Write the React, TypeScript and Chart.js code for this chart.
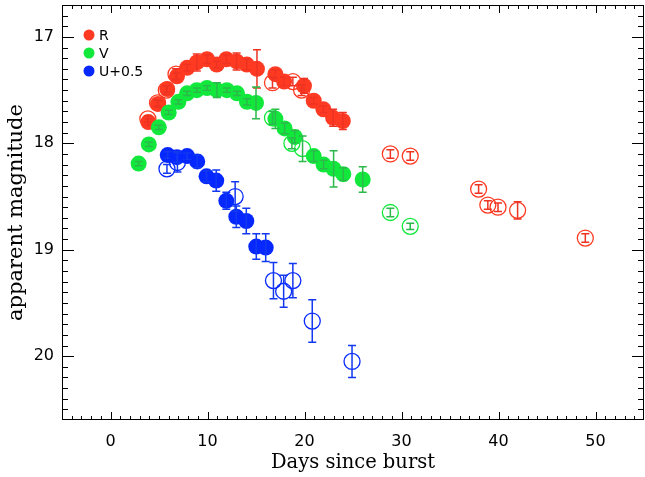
import React, { useEffect, useRef } from "react";
import { Chart, registerables } from "chart.js";
Chart.register(...registerables);

// ---- data ----
const rFilledDays = [3.9, 4.9, 5.85, 6.85, 7.9, 8.9, 9.95, 10.95, 11.95, 13.0, 14.05, 15.1, 17.0, 17.9, 19.95, 20.95, 21.95, 22.95, 23.95];
const rFilledMag = [17.80, 17.63, 17.49, 17.37, 17.29, 17.24, 17.21, 17.26, 17.21, 17.23, 17.26, 17.30, 17.35, 17.42, 17.46, 17.60, 17.68, 17.76, 17.79];
const rFilledErr = [0.03, 0.03, 0.03, 0.03, 0.03, 0.08, 0.04, 0.03, 0.04, 0.08, 0.05, 0.18, 0.04, 0.04, 0.07, 0.03, 0.03, 0.08, 0.08];

const rOpenDays = [3.85, 4.85, 5.75, 6.75, 16.7, 18.8, 19.7, 28.85, 30.9, 37.95, 38.9, 39.95, 41.97, 48.95];
const rOpenMag = [17.77, 17.62, 17.50, 17.35, 17.43, 17.42, 17.50, 18.10, 18.12, 18.43, 18.58, 18.60, 18.63, 18.89];
const rOpenErr = [0.03, 0.03, 0.04, 0.05, 0.05, 0.04, 0.05, 0.04, 0.04, 0.04, 0.04, 0.04, 0.08, 0.04];

const vFilledDays = [2.9, 3.95, 4.98, 6.0, 7.0, 7.9, 8.9, 9.95, 10.97, 12.0, 13.04, 14.07, 15.0, 17.0, 17.95, 19.0, 20.95, 21.97, 23.0, 24.0, 26.0];
const vFilledMag = [18.19, 18.01, 17.85, 17.71, 17.61, 17.53, 17.50, 17.48, 17.50, 17.50, 17.53, 17.61, 17.62, 17.77, 17.86, 17.94, 18.12, 18.20, 18.24, 18.29, 18.34];
const vFilledErr = [0.02, 0.02, 0.02, 0.02, 0.02, 0.02, 0.02, 0.02, 0.07, 0.02, 0.02, 0.03, 0.15, 0.09, 0.05, 0.06, 0.05, 0.04, 0.17, 0.06, 0.12];

const vOpenDays = [16.7, 18.7, 19.8, 28.85, 30.9];
const vOpenMag = [17.76, 18.00, 18.05, 18.65, 18.78];
const vOpenErr = [0.06, 0.05, 0.12, 0.04, 0.03];

const uFilledDays = [5.9, 6.85, 7.9, 8.94, 9.9, 10.9, 11.94, 12.97, 14.0, 15.03, 16.0];
const uFilledMag = [18.11, 18.13, 18.12, 18.17, 18.31, 18.35, 18.54, 18.69, 18.73, 18.97, 18.98];
const uFilledErr = [0.03, 0.05, 0.03, 0.06, 0.05, 0.10, 0.08, 0.10, 0.12, 0.12, 0.13];

const uOpenDays = [5.82, 6.9, 12.85, 16.8, 17.85, 18.8, 20.8, 24.9];
const uOpenMag = [18.24, 18.18, 18.50, 19.29, 19.39, 19.29, 19.67, 20.05];
const uOpenErr = [0.04, 0.09, 0.14, 0.17, 0.15, 0.16, 0.20, 0.15];

const legendLabels = ["R", "V", "U+0.5"];
const xTickValues = [0, 10, 20, 30, 40, 50];
const yTickValues = [17, 18, 19, 20];
const xTitle = "Days since burst";
const yTitle = "apparent magnitude";

// ---- styles ----
const RED = "#ff3a22";
const GREEN = "#12e83c";
const BLUE = "#0628ff";
const RED_ERR = "#ee3322";
const GREEN_ERR = "#2cb84a";
const BLUE_ERR = "#1238f0";

const toPts = (xs: number[], ys: number[]) => xs.map((x, i) => ({ x, y: ys[i] }));

const customPlugin = {
  id: "customFrame",
  afterDatasetDraw(chart: any, args: any) {
    const ds = chart.data.datasets[args.index];
    if (!ds.errors) return;
    const ctx = chart.ctx;
    const ys = chart.scales.y;
    ctx.save();
    ctx.strokeStyle = ds.errorColor;
    ctx.lineWidth = 1.5;
    args.meta.data.forEach((pt: any, i: number) => {
      const v = ds.data[i].y;
      const e = ds.errors[i];
      const x = pt.x;
      const y1 = ys.getPixelForValue(v - e);
      const y2 = ys.getPixelForValue(v + e);
      ctx.beginPath();
      ctx.moveTo(x, y1);
      ctx.lineTo(x, y2);
      ctx.moveTo(x - 4, y1);
      ctx.lineTo(x + 4, y1);
      ctx.moveTo(x - 4, y2);
      ctx.lineTo(x + 4, y2);
      ctx.stroke();
    });
    ctx.restore();
  },
  afterDraw(chart: any) {
    const ctx = chart.ctx;
    const { left, right, top, bottom } = chart.chartArea;
    const xs = chart.scales.x;
    const ys = chart.scales.y;
    ctx.save();
    ctx.strokeStyle = "#000";
    ctx.lineWidth = 1;
    ctx.strokeRect(left + 0.5, top + 0.5, right - left - 1, bottom - top - 1);
    ctx.beginPath();
    for (let v = -4; v <= 54; v++) {
      const px = Math.round(xs.getPixelForValue(v)) + 0.5;
      const len = v % 10 === 0 ? 8 : 4;
      ctx.moveTo(px, bottom);
      ctx.lineTo(px, bottom - len);
      ctx.moveTo(px, top);
      ctx.lineTo(px, top + len);
    }
    for (let k = 168; k <= 205; k++) {
      const v = k / 10;
      const py = Math.round(ys.getPixelForValue(v)) + 0.5;
      const len = k % 10 === 0 ? 12 : 6;
      ctx.moveTo(left, py);
      ctx.lineTo(left + len, py);
      ctx.moveTo(right, py);
      ctx.lineTo(right - len, py);
    }
    ctx.stroke();
    // legend
    const cols = [RED, GREEN, BLUE];
    ctx.font = "14px 'DejaVu Sans'";
    ctx.textBaseline = "middle";
    legendLabels.forEach((lab, i) => {
      const cy = 35 + i * 18;
      ctx.fillStyle = cols[i];
      ctx.beginPath();
      ctx.arc(89, cy, 5.5, 0, Math.PI * 2);
      ctx.fill();
      ctx.fillStyle = "#000";
      ctx.fillText(lab, 99, cy + 1);
    });
    ctx.restore();
  },
};

const zeroPad = (s: any) => {
  s.paddingTop = 0;
  s.paddingBottom = 0;
  s.paddingLeft = 0;
  s.paddingRight = 0;
};

export default function App() {
  const ref = useRef<HTMLCanvasElement>(null);
  useEffect(() => {
    if (!ref.current) return;
    const filled = (label: string, xs: number[], ys: number[], errs: number[], col: string, ecol: string, order: number) => ({
      label,
      data: toPts(xs, ys),
      errors: errs,
      errorColor: ecol,
      pointRadius: 8,
      pointHoverRadius: 8,
      backgroundColor: col,
      borderColor: col,
      borderWidth: 0,
      order,
    });
    const open = (label: string, xs: number[], ys: number[], errs: number[], col: string, ecol: string, order: number) => ({
      label,
      data: toPts(xs, ys),
      errors: errs,
      errorColor: ecol,
      pointRadius: 8,
      pointHoverRadius: 8,
      backgroundColor: "rgba(0,0,0,0)",
      borderColor: col,
      borderWidth: 1.3,
      order,
    });
    const chart = new Chart(ref.current, {
      type: "scatter",
      data: {
        datasets: [
          filled("R", rFilledDays, rFilledMag, rFilledErr, RED, RED_ERR, 6),
          open("R open", rOpenDays, rOpenMag, rOpenErr, RED, RED_ERR, 5),
          filled("V", vFilledDays, vFilledMag, vFilledErr, GREEN, GREEN_ERR, 4),
          open("V open", vOpenDays, vOpenMag, vOpenErr, GREEN, GREEN_ERR, 3),
          filled("U+0.5", uFilledDays, uFilledMag, uFilledErr, BLUE, BLUE_ERR, 2),
          open("U open", uOpenDays, uOpenMag, uOpenErr, BLUE, BLUE_ERR, 1),
        ] as any,
      },
      options: {
        responsive: false,
        animation: false,
        layout: { autoPadding: false, padding: { top: 5, right: 1, left: 0, bottom: 0 } },
        plugins: { legend: { display: false }, tooltip: { enabled: false } },
        scales: {
          x: {
            type: "linear",
            min: -5,
            max: 55,
            grid: { display: false, drawTicks: false },
            border: { display: false },
            afterBuildTicks: (s: any) => {
              s.ticks = xTickValues.map((v) => ({ value: v }));
            },
            afterFit: (s: any) => {
              s.height = 57;
              zeroPad(s);
            },
            ticks: {
              autoSkip: false,
              maxRotation: 0,
              padding: 12,
              color: "#000",
              font: { family: "DejaVu Sans", size: 16 },
            },
            title: {
              display: true,
              text: xTitle,
              color: "#000",
              font: { family: "DejaVu Serif", size: 19.5 },
              padding: { top: 0, bottom: 2 },
            },
          },
          y: {
            type: "linear",
            reverse: true,
            min: 16.7,
            max: 20.6,
            grid: { display: false, drawTicks: false },
            border: { display: false },
            afterBuildTicks: (s: any) => {
              s.ticks = yTickValues.map((v) => ({ value: v }));
            },
            afterFit: (s: any) => {
              s.width = 62;
              zeroPad(s);
            },
            ticks: {
              autoSkip: false,
              padding: 8,
              color: "#000",
              font: { family: "DejaVu Sans", size: 16 },
            },
            title: {
              display: true,
              text: yTitle,
              color: "#000",
              font: { family: "DejaVu Serif", size: 21 },
              padding: { top: 4, bottom: 0 },
            },
          },
        },
      } as any,
      plugins: [customPlugin],
    });
    return () => chart.destroy();
  }, []);
  return (
    <div style={{ position: "fixed", left: 0, top: 0, width: 645, height: 477, background: "#fff" }}>
      <canvas ref={ref} width={645} height={477} style={{ display: "block" }} />
    </div>
  );
}
